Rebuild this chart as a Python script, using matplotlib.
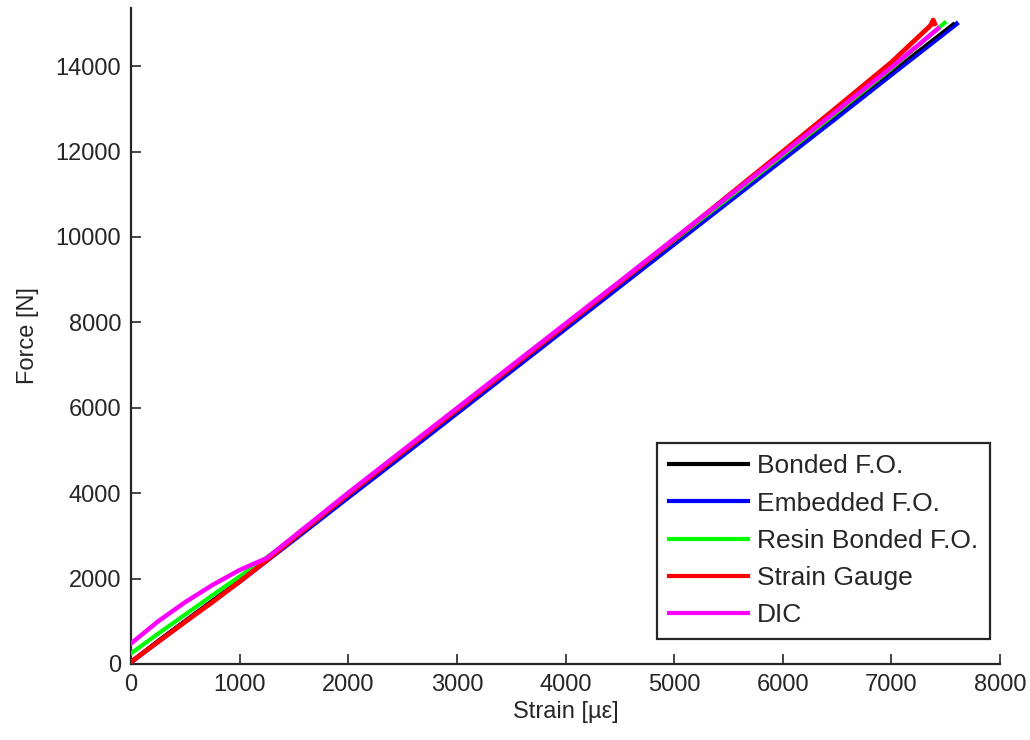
import matplotlib
matplotlib.use("Agg")
import matplotlib.pyplot as plt

plt.rcParams['font.family'] = ['Liberation Sans', 'DejaVu Sans']

labels = ["Bonded F.O.", "Embedded F.O.", "Resin Bonded F.O.", "Strain Gauge", "DIC"]
colors = ["#000000", "#0000ff", "#00ff00", "#ff0000", "#ff00ff"]

bonded_x = [0, 250, 500, 750, 1000, 1250, 1500, 2000, 2500, 3000, 3500, 4000, 4500, 5000, 5500, 6000, 6500, 7000, 7570]
bonded_y = [60, 560, 1030, 1500, 1960, 2450, 2960, 3950, 4940, 5930, 6920, 7915, 8910, 9900, 10890, 11880, 12875, 13870, 15000]

embedded_x = [0, 250, 500, 750, 1000, 1250, 1500, 2000, 2500, 3000, 3500, 4000, 4500, 5000, 5500, 6000, 6500, 7000, 7600]
embedded_y = [40, 530, 1000, 1470, 1930, 2420, 2910, 3900, 4880, 5870, 6860, 7850, 8840, 9830, 10820, 11810, 12800, 13800, 14990]

resin_x = [0, 250, 500, 750, 1000, 1200, 1500, 2000, 2500, 3000, 3500, 4000, 4500, 5000, 5500, 6000, 6500, 7000, 7490]
resin_y = [250, 710, 1160, 1610, 2050, 2400, 2970, 3980, 4970, 5960, 6950, 7940, 8930, 9920, 10910, 11910, 12920, 13940, 15010]

gauge_x = [0, 250, 500, 750, 1000, 1250, 1500, 2000, 2500, 3000, 3500, 4000, 4500, 5000, 5500, 6000, 6500, 7000, 7360, 7385, 7400]
gauge_y = [50, 520, 990, 1450, 1930, 2430, 2950, 3970, 4960, 5950, 6940, 7930, 8930, 9940, 10970, 12000, 13040, 14090, 14950, 15080, 14990]

dic_x = [0, 250, 500, 750, 1000, 1250, 1500, 2000, 2500, 3000, 3500, 4000, 4500, 5000, 5500, 6000, 6500, 7000, 7430]
dic_y = [480, 1000, 1450, 1850, 2200, 2480, 2990, 4010, 5000, 5990, 6980, 7970, 8960, 9960, 10950, 11950, 12960, 13970, 14880]

xticks = [0, 1000, 2000, 3000, 4000, 5000, 6000, 7000, 8000]
yticks = [0, 2000, 4000, 6000, 8000, 10000, 12000, 14000]

fig = plt.figure(figsize=(10.3, 7.4), dpi=100)
ax = fig.add_axes([131/1030, 1-664/740, (1000-131)/1030, (664-8)/740])

dark = "#262626"
ax.plot(embedded_x, embedded_y, color=colors[1], lw=3.4, zorder=2)
ax.plot(bonded_x, bonded_y, color=colors[0], lw=1.8, zorder=3)
ax.plot(resin_x, resin_y, color=colors[2], lw=3.0, zorder=3)
ax.plot(gauge_x, gauge_y, color=colors[3], lw=3.4, zorder=4)
ax.plot(dic_x, dic_y, color=colors[4], lw=3.2, zorder=5)

ax.set_xlim(0, 8000)
ax.set_ylim(0, 15360)
ax.set_xticks(xticks)
ax.set_yticks(yticks)
ax.set_xticklabels([str(t) for t in xticks])
ax.set_yticklabels([str(t) for t in yticks])
for s in ['top', 'right']:
    ax.spines[s].set_visible(False)
for s in ['left', 'bottom']:
    ax.spines[s].set_linewidth(1.6)
    ax.spines[s].set_color(dark)
ax.tick_params(direction='in', length=7, width=1.2, colors=dark, labelsize=17, pad=7)
ax.set_xlabel("Strain [µε]", fontsize=17, color=dark, labelpad=4)
ax.set_ylabel("Force [N]", fontsize=17, color=dark, labelpad=12)

handles = [plt.Line2D([], [], color=c, lw=3) for c in colors]
leg = ax.legend(handles, labels, loc='lower right', bbox_to_anchor=(0.9885, 0.038),
                borderaxespad=0, fontsize=19, handlelength=3.0, handletextpad=0.35,
                labelspacing=0.5, borderpad=0.45, fancybox=False, framealpha=1,
                edgecolor=dark)
leg.get_frame().set_linewidth(1.6)
for t in leg.get_texts():
    t.set_color(dark)

fig.savefig("out.png", dpi=100)
